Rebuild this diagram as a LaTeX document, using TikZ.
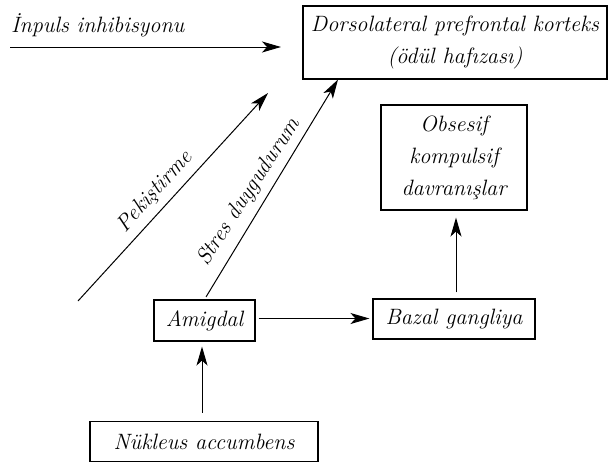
\documentclass[tikz,border=0pt]{standalone}
\usepackage{fontspec}
\usetikzlibrary{arrows.meta}
\begin{document}
\begin{tikzpicture}[x=1pt,y=-1pt,
  box/.style={draw, line width=1.1pt, inner sep=0pt, align=center,
    font=\itshape\fontsize{22.2}{32}\selectfont},
  arr/.style={-{Stealth[length=19pt,width=11pt,inset=5pt]}, line width=1pt},
  lbl/.style={inner sep=0pt, font=\itshape\fontsize{22.2}{26}\selectfont}]
\useasboundingbox (0,0) rectangle (613,461);
\clip (0,0) rectangle (613,461);
% boxes
\node[box, minimum width=304pt, minimum height=73pt] (dlpfc) at (455,42.5)
  {Dorsolateral prefrontal korteks\\(ödül hafızası)};
\node[box, minimum width=146pt, minimum height=105pt] (obs) at (454,157.5)
  {Obsesif\\kompulsif\\davranışlar};
\node[box, minimum width=101pt, minimum height=41pt] (amig) at (204.5,320.5) {Amigdal};
\node[box, minimum width=162pt, minimum height=40pt] (bazal) at (454,319) {Bazal gangliya};
\node[box, minimum width=228pt, minimum height=40pt] (nuk) at (204,441.5) {Nükleus accumbens};
% free ends
\coordinate (inA) at (10,47);
\coordinate (inB) at (281,47);
\coordinate (pkA) at (78,301);
\coordinate (pkB) at (268,93);
\coordinate (stX) at (338,0);
% labels
\node[lbl, anchor=base west] (inlbl) at (11,32) {İnpuls inhibisyonu};
\node[lbl, rotate=47.6] (pklbl) at (155,192) {Pekiştirme};
\node[lbl, rotate=57] (stlbl) at (249,192) {Stres duygudurum};
% connectors
\draw[arr] (inA) -- (inB);
\draw[arr] (pkA) -- (pkB);
\draw[arr, shorten <=3pt] (amig.north) -- (dlpfc.south -| stX);
\draw[arr, shorten <=3pt, shorten >=3pt] ([yshift=2pt]amig.east) -- ([yshift=2pt]amig.east -| bazal.west);
\draw[arr, shorten <=6pt, shorten >=7pt] ([xshift=2pt]bazal.north) -- ([xshift=2pt]obs.south);
\draw[arr, shorten <=8pt, shorten >=5pt] ([xshift=-2pt]nuk.north) -- ([xshift=-2pt]nuk.north |- amig.south);
\end{tikzpicture}
\end{document}
